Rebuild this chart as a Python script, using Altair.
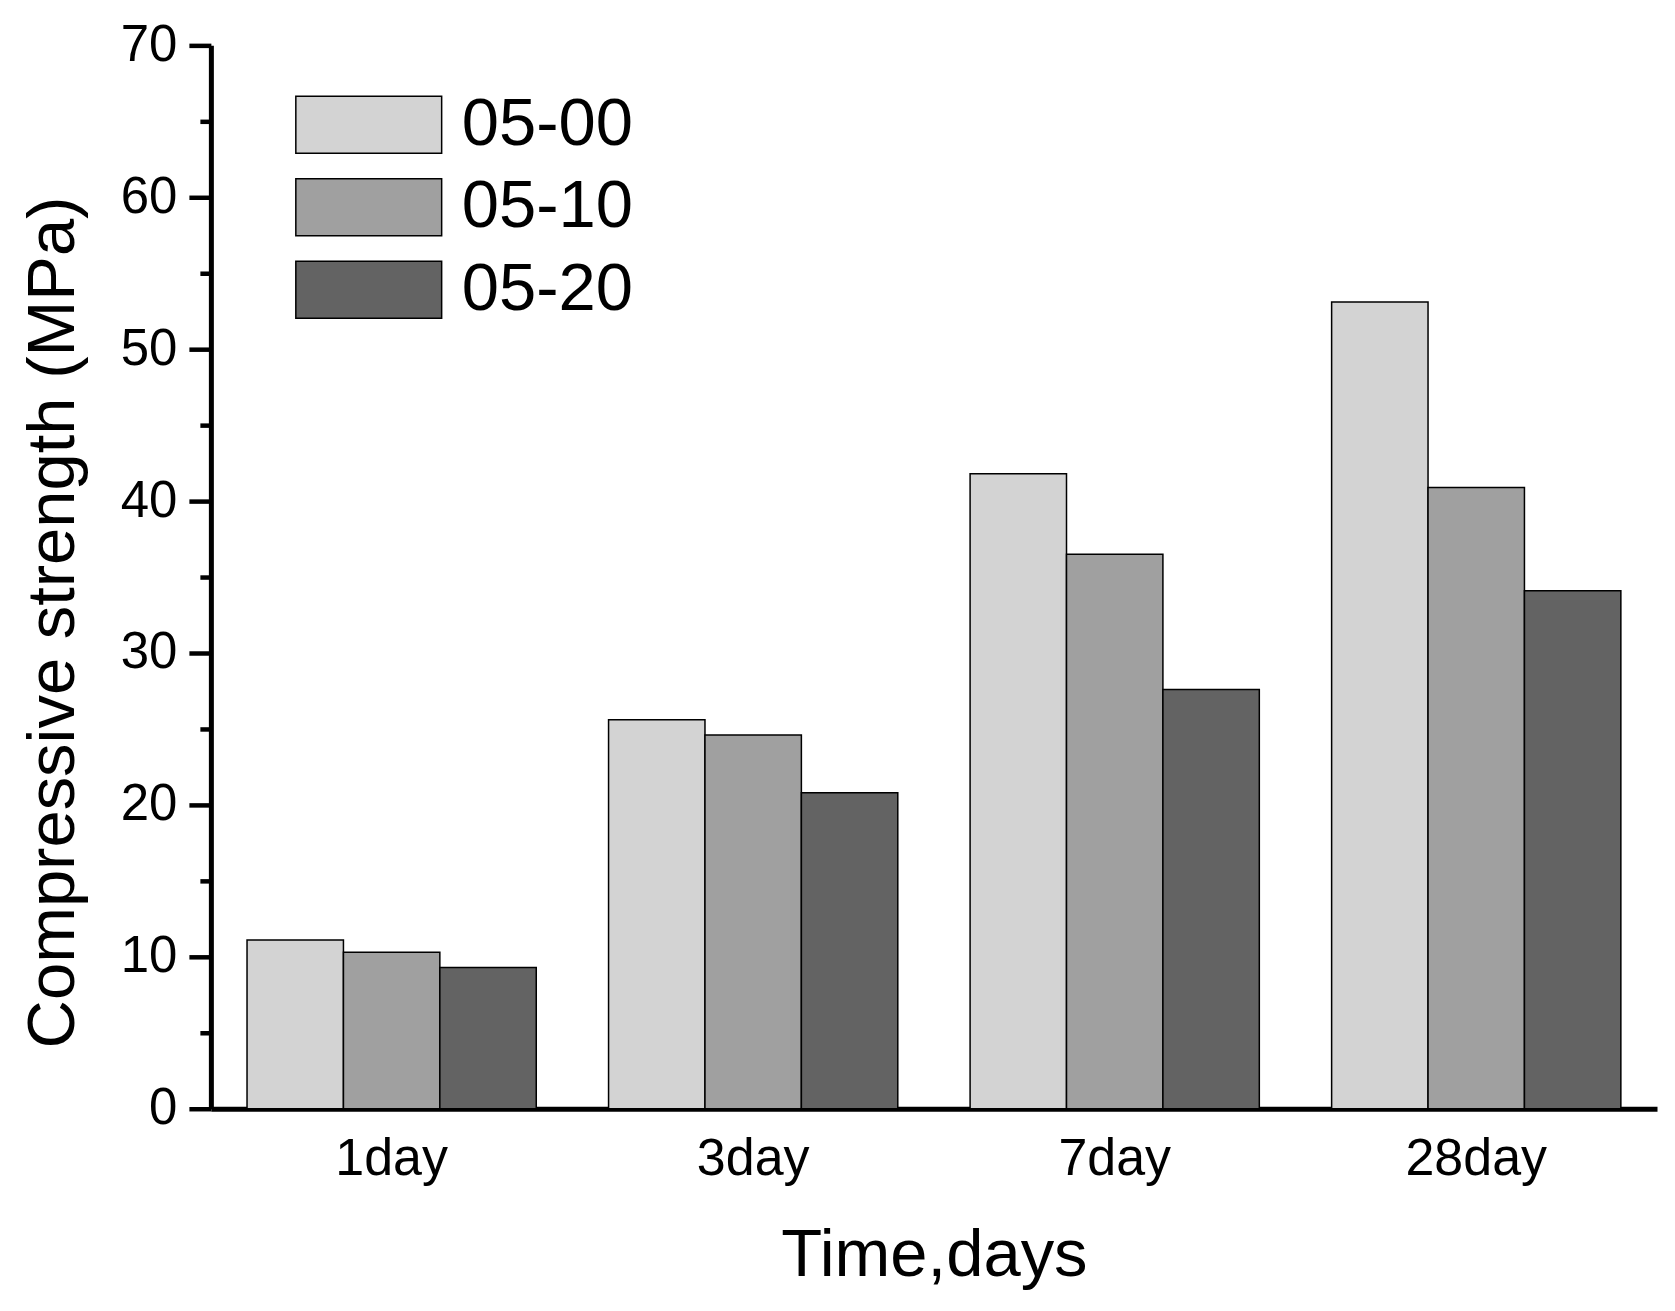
import altair as alt
import pandas as pd

days = ["1day", "3day", "7day", "28day"]
mixes = ["05-00", "05-10", "05-20"]
s_0500 = [11.1, 25.6, 41.8, 53.1]
s_0510 = [10.3, 24.6, 36.5, 40.9]
s_0520 = [9.3, 20.8, 27.6, 34.1]
colors = ["#D3D3D3", "#A0A0A0", "#636363"]
y_ticks = [0, 5, 10, 15, 20, 25, 30, 35, 40, 45, 50, 55, 60, 65, 70]

rows = []
for mix, vals in zip(mixes, [s_0500, s_0510, s_0520]):
    for d, v in zip(days, vals):
        rows.append({"day": d, "mix": mix, "strength": v})
df = pd.DataFrame(rows)

FONT = "Liberation Sans"

chart = alt.Chart(df).mark_bar(stroke="black", strokeWidth=1.5).encode(
    x=alt.X("day:N", sort=days,
            scale=alt.Scale(paddingInner=0.2, paddingOuter=0.1),
            axis=alt.Axis(title="Time,days", labelAngle=0, ticks=False,
                          domainColor="black", domainWidth=5,
                          labelFont=FONT, labelFontSize=52, labelColor="black",
                          labelPadding=25,
                          titleFont=FONT, titleFontSize=67, titleFontWeight="normal",
                          titleColor="black", titlePadding=38)),
    xOffset=alt.XOffset("mix:N", sort=mixes,
                        scale=alt.Scale(paddingInner=0, paddingOuter=0)),
    y=alt.Y("strength:Q",
            scale=alt.Scale(domain=[0, 70], nice=False),
            axis=alt.Axis(title="Compressive strength (MPa)", values=y_ticks,
                          labelExpr="datum.value % 10 === 0 ? datum.label : ''",
                          labelOverlap=False, grid=False,
                          tickSize={"condition": {"test": "datum.value % 10 === 0", "value": 22}, "value": 11},
                          tickWidth=4.5, tickColor="black",
                          domainColor="black", domainWidth=5,
                          labelFont=FONT, labelFontSize=51, labelColor="black",
                          labelPadding=12,
                          titleFont=FONT, titleFontSize=67, titleFontWeight="normal",
                          titleColor="black", titleAngle=-90,
                          titleX=-157, titleY=577, titleAlign="center",
                          titleBaseline="middle")),
    color=alt.Color("mix:N", sort=mixes,
                    scale=alt.Scale(domain=mixes, range=colors),
                    legend=alt.Legend(title=None, orient="none",
                                      legendX=80, legendY=46, padding=0,
                                      symbolType="M-1,-1H4.12V1H-1Z",
                                      symbolSize=3249, symbolStrokeColor="black",
                                      symbolStrokeWidth=1.5, symbolOpacity=1,
                                      labelFont=FONT, labelFontSize=67,
                                      labelColor="black", labelOffset=104,
                                      labelLimit=400, rowPadding=14.5)),
).properties(
    width=1447, height=1064,
    autosize=alt.AutoSizeParams(type="none"),
    padding={"left": 203, "top": 37, "right": 10, "bottom": 190},
).configure_view(stroke=None)

chart.save("out.html", embed_options={"renderer": "svg", "actions": False})
